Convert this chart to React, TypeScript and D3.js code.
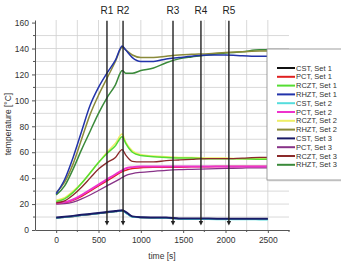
import React, { useEffect, useRef } from 'react'
import * as d3 from 'd3'

// time axis samples [s]
const times = [0, 100, 200, 300, 400, 500, 600, 700, 780, 820, 900, 1000, 1150, 1300, 1450, 1600, 1800, 2000, 2200, 2400, 2500]

const cstSet1 = [9.2, 9.8, 10.5, 11.3, 12, 12.7, 13.5, 14.2, 14.8, 13.5, 10.2, 9.7, 9.5, 9.4, 8.6, 8.5, 8.5, 8.4, 8.4, 8.3, 8.3]
const pctSet1 = [20.5, 21, 23, 26, 30, 34, 38, 42, 45, 46, 47.5, 48, 48.5, 48.5, 48.5, 48.7, 48.8, 49, 49, 49, 49]
const rcztSet1 = [22, 24, 29, 36, 44, 52, 59, 65, 72, 67, 60, 57.5, 56.5, 56, 55.5, 55.5, 55, 55, 55, 54.5, 54.5]
const rhztSet1 = [28, 39, 56, 76, 96, 110, 121, 131, 142, 139, 133, 130, 130, 132, 133, 134, 135, 135, 134.5, 134, 134]
const cstSet2 = [9.3, 9.9, 10.6, 11.4, 12.1, 12.8, 13.6, 14.3, 14.9, 13.3, 10, 9.6, 9.4, 9.2, 8.4, 8.2, 8.2, 8.1, 8.1, 8, 8]
const pctSet2 = [21, 21.5, 23.5, 27, 31, 35, 39, 43, 46, 47.5, 48.5, 49, 49, 49, 49, 49, 49, 49, 49, 49, 49]
const rcztSet2 = [23, 25, 30, 36, 44, 52, 60, 67, 74, 68, 61, 58, 57, 56.5, 56, 56, 55.5, 55.5, 55, 55, 55]
const rhztSet2 = [29, 37, 51, 70, 89, 104, 117, 130, 141, 139, 135, 133, 133, 134, 135, 135.5, 136, 137, 137.5, 138, 138]
const cstSet3 = [9.6, 10.2, 10.9, 11.7, 12.4, 13.1, 13.9, 14.6, 15.3, 14, 10.5, 9.9, 9.7, 9.6, 8.9, 8.8, 8.8, 8.7, 8.7, 8.6, 8.6]
const pctSet3 = [20, 20.3, 21.5, 24, 27, 30.5, 34, 37.5, 40.5, 42, 43.5, 44.5, 45.3, 46, 46.5, 46.8, 47.2, 47.5, 47.8, 48, 48]
const rcztSet3 = [21, 22.5, 27, 33, 40, 47, 52, 56, 62, 58, 53, 52.5, 52.5, 53.5, 54, 54.5, 55, 55, 55.5, 56, 56]
const rhztSet3 = [27, 34, 47, 62, 76, 90, 102, 112, 123, 121, 121, 123, 125, 129, 132, 133.5, 135, 136.5, 137.5, 139, 139]

const markers = [
  { label: 'R1', t: 600 },
  { label: 'R2', t: 790 },
  { label: 'R3', t: 1380 },
  { label: 'R4', t: 1710 },
  { label: 'R5', t: 2040 },
]

const xTicks = [0, 500, 1000, 1500, 2000, 2500]
const yTicks = [0, 20, 40, 60, 80, 100, 120, 140, 160]

interface Series {
  label: string
  color: string
  width: number
  values: number[]
}

const series: Series[] = [
  { label: 'CST, Set 1', color: '#111111', width: 1.5, values: cstSet1 },
  { label: 'PCT, Set 1', color: '#e02020', width: 1.5, values: pctSet1 },
  { label: 'RCZT, Set 1', color: '#55dd33', width: 1.5, values: rcztSet1 },
  { label: 'RHZT, Set 1', color: '#2233aa', width: 1.5, values: rhztSet1 },
  { label: 'CST, Set 2', color: '#55dddd', width: 1.5, values: cstSet2 },
  { label: 'PCT, Set 2', color: '#ee33cc', width: 2, values: pctSet2 },
  { label: 'RCZT, Set 2', color: '#eeee66', width: 1.5, values: rcztSet2 },
  { label: 'RHZT, Set 2', color: '#8a8a3a', width: 1.5, values: rhztSet2 },
  { label: 'CST, Set 3', color: '#1a1a66', width: 2, values: cstSet3 },
  { label: 'PCT, Set 3', color: '#883388', width: 1.3, values: pctSet3 },
  { label: 'RCZT, Set 3', color: '#8b2a2a', width: 1.3, values: rcztSet3 },
  { label: 'RHZT, Set 3', color: '#3a8a3a', width: 1.5, values: rhztSet3 },
]

// which series goes on top
const drawOrder = [0, 4, 8, 1, 9, 5, 6, 2, 10, 11, 7, 3]

export default function App() {
  const svgRef = useRef<SVGSVGElement>(null)

  useEffect(() => {
    if (!svgRef.current) return
    document.body.style.margin = '0'
    const svg = d3.select(svgRef.current)
    svg.selectAll('*').remove()

    const font = 'Liberation Sans, Arial, sans-serif'
    const x = d3.scaleLinear().domain([-250, 2750]).range([35, 289])
    const y = d3.scaleLinear().domain([0, 162]).range([230, 20])

    // grid
    const grid = svg.append('g').attr('stroke', '#cfcfcf').attr('stroke-width', 0.8)
    d3.range(0, 2501, 250).forEach(t => {
      grid.append('line').attr('x1', x(t)).attr('x2', x(t)).attr('y1', y(162)).attr('y2', y(0))
    })
    d3.range(10, 151, 10).forEach(v => {
      grid.append('line').attr('x1', x(-250)).attr('x2', x(2750)).attr('y1', y(v)).attr('y2', y(v))
    })

    // lines
    const line = d3.line<number>()
      .x((_, i) => x(times[i]))
      .y(d => y(d))
      .curve(d3.curveMonotoneX)

    drawOrder.forEach(i => {
      const s = series[i]
      svg.append('path')
        .datum(s.values)
        .attr('fill', 'none')
        .attr('stroke', s.color)
        .attr('stroke-width', s.width)
        .attr('stroke-linejoin', 'round')
        .attr('d', line)
    })

    // axes
    const xAxis = svg.append('g')
      .attr('transform', `translate(0,${y(0)})`)
      .call(d3.axisBottom(x).tickValues(xTicks).tickFormat(d3.format('d')).tickSize(3).tickPadding(4).tickSizeOuter(0))
    d3.range(250, 2751, 500).forEach(t => {
      xAxis.append('line')
        .attr('x1', x(t)).attr('x2', x(t)).attr('y1', 0).attr('y2', 2)
        .attr('stroke', '#555')
    })
    const yAxis = svg.append('g')
      .attr('transform', `translate(${x(-250)},0)`)
      .call(d3.axisLeft(y).tickValues(yTicks).tickSize(3).tickPadding(3).tickSizeOuter(0))
    d3.range(10, 161, 20).forEach(v => {
      yAxis.append('line').attr('x1', -2).attr('x2', 0).attr('y1', y(v)).attr('y2', y(v)).attr('stroke', '#555')
    })
    svg.selectAll('.domain').attr('stroke', '#555')
    svg.selectAll('.tick line').attr('stroke', '#555')
    svg.selectAll('.tick text')
      .attr('fill', '#333')
      .style('font-family', font)
      .style('font-size', '8.5px')

    // axis titles
    svg.append('text')
      .attr('x', 162).attr('y', 259)
      .attr('text-anchor', 'middle')
      .attr('fill', '#333')
      .style('font-family', font).style('font-size', '8.5px')
      .text('time [s]')
    svg.append('text')
      .attr('transform', `translate(11,${124}) rotate(-90)`)
      .attr('text-anchor', 'middle')
      .attr('fill', '#333')
      .style('font-family', font).style('font-size', '8.5px')
      .text('temperature [°C]')

    // R markers
    markers.forEach(m => {
      const cx = x(m.t)
      svg.append('line')
        .attr('x1', cx).attr('x2', cx)
        .attr('y1', y(161.5)).attr('y2', y(6))
        .attr('stroke', '#222').attr('stroke-width', 1.4)
      svg.append('path')
        .attr('d', `M${cx - 2.2},${y(7)}L${cx + 2.2},${y(7)}L${cx},${y(3.5)}Z`)
        .attr('fill', '#222')
      svg.append('text')
        .attr('x', cx).attr('y', 14)
        .attr('text-anchor', 'middle')
        .attr('fill', '#222')
        .style('font-family', font).style('font-size', '10px')
        .text(m.label)
    })

    // legend
    const lg = svg.append('g').attr('transform', 'translate(267,49)')
    lg.append('rect')
      .attr('x', 1.5).attr('y', 1.5).attr('width', 90).attr('height', 131)
      .attr('fill', '#e4e4e4')
    lg.append('rect')
      .attr('width', 90).attr('height', 131)
      .attr('fill', 'white').attr('stroke', '#888').attr('stroke-width', 0.8)
    series.forEach((s, i) => {
      const ly = 19 + i * 8.8
      lg.append('line')
        .attr('x1', 10).attr('x2', 28).attr('y1', ly).attr('y2', ly)
        .attr('stroke', s.color).attr('stroke-width', 2)
      lg.append('text')
        .attr('x', 29).attr('y', ly)
        .attr('dy', '0.35em')
        .attr('fill', '#333')
        .style('font-family', font).style('font-size', '7.5px')
        .text(s.label)
    })
  }, [])

  return <svg ref={svgRef} width={341} height={261} style={{ display: 'block', background: 'white' }} />
}
